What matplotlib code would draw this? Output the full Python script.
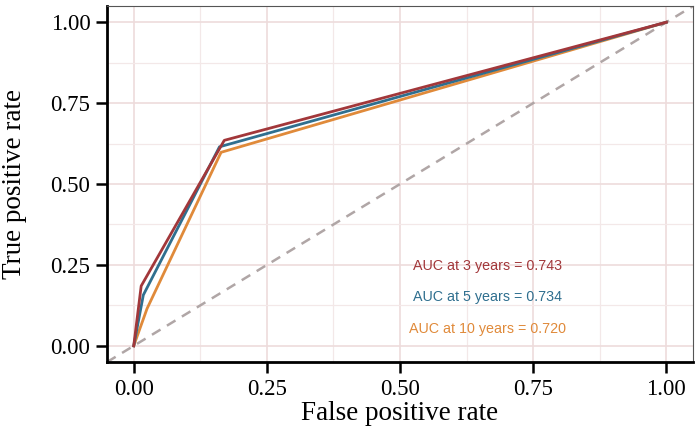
import matplotlib
matplotlib.use("Agg")
import matplotlib.pyplot as plt
from matplotlib.ticker import MultipleLocator

fpr_3y = [0.0, 0.014, 0.170, 1.0]
tpr_3y = [0.0, 0.185, 0.635, 1.0]
fpr_5y = [0.0, 0.018, 0.161, 1.0]
tpr_5y = [0.0, 0.157, 0.615, 1.0]
fpr_10y = [0.0, 0.025, 0.164, 1.0]
tpr_10y = [0.0, 0.115, 0.598, 1.0]
labels = ["AUC at 3 years = 0.743", "AUC at 5 years = 0.734", "AUC at 10 years = 0.720"]
colors = ["#a2373a", "#2f6f8f", "#e08a3a"]
ticks = [0.0, 0.25, 0.5, 0.75, 1.0]
tick_labels = ["0.00", "0.25", "0.50", "0.75", "1.00"]

fig = plt.figure(figsize=(7, 4.32), dpi=100)
ax = fig.add_axes([0.153, 0.162, 0.837, 0.824])
ax.set_xlim(-0.05, 1.05)
ax.set_ylim(-0.05, 1.05)

ax.xaxis.set_minor_locator(MultipleLocator(0.125))
ax.yaxis.set_minor_locator(MultipleLocator(0.125))
ax.grid(True, which="major", color="#eddcdc", lw=1.2)
ax.grid(True, which="minor", color="#f3e8e8", lw=0.9)
ax.set_axisbelow(True)

ax.plot([-0.05, 1.05], [-0.05, 1.05], ls=(0, (4, 3)), color="#b0a6a6", lw=1.8, zorder=2)
for f, t, c in [(fpr_10y, tpr_10y, colors[2]), (fpr_5y, tpr_5y, colors[1]), (fpr_3y, tpr_3y, colors[0])]:
    ax.plot(f, t, color=c, lw=2.0, zorder=3)

for lab, c, y in zip(labels, colors, [0.247, 0.151, 0.052]):
    ax.text(0.665, y, lab, color=c, ha="center", va="center", fontsize=10.3,
            family="Liberation Sans")

ax.set_xticks(ticks)
ax.set_xticklabels(tick_labels)
ax.set_yticks(ticks)
ax.set_yticklabels(tick_labels)
ax.tick_params(which="minor", length=0)
ax.tick_params(which="major", length=8, width=1.8, color="black", labelsize=16.5, pad=4)
for lab in ax.get_xticklabels() + ax.get_yticklabels():
    lab.set_family("Liberation Serif")
ax.set_xlabel("False positive rate", family="Liberation Serif", fontsize=19.5, labelpad=1)
ax.set_ylabel("True positive rate", family="Liberation Serif", fontsize=19.5, labelpad=17)

for s in ["top", "right"]:
    ax.spines[s].set_color("#555555")
    ax.spines[s].set_linewidth(0.8)
for s in ["left", "bottom"]:
    ax.spines[s].set_color("black")
    ax.spines[s].set_linewidth(2)

fig.savefig("out.png", dpi=100)
